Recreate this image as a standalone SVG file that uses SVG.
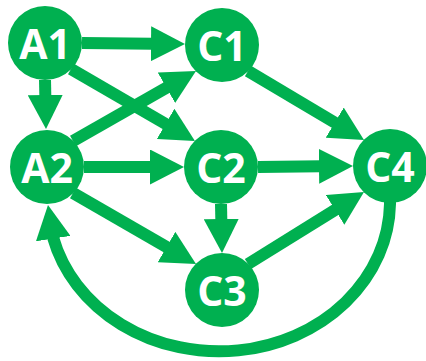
<svg xmlns="http://www.w3.org/2000/svg" width="426" height="361" viewBox="0 0 426 361">
  <style>
    .node { fill: #00B050; }
    .label { fill: #FFFFFF; font-family: "Open Sans", "Liberation Sans", sans-serif; font-weight: 700; font-size: 41px; text-anchor: middle; }
    .edge { fill: none; stroke: #00B050; stroke-width: 12; marker-end: url(#arrow); }
  </style>
  <defs>
    <marker id="arrow" markerUnits="userSpaceOnUse" markerWidth="34" markerHeight="35" refX="2" refY="17.5" orient="auto" viewBox="0 0 34 35">
      <path d="M0,0 L34,17.5 L0,35 Z" fill="#00B050"/>
    </marker>
  </defs>
  <rect width="426" height="361" fill="#FFFFFF"/>
  <g id="connectors">
    <line class="edge" x1="82" y1="43" x2="153" y2="43.7"/>
    <line class="edge" x1="45" y1="80" x2="45.35" y2="97"/>
    <line class="edge" x1="71" y1="69" x2="167.3" y2="124.9"/>
    <line class="edge" x1="73" y1="141" x2="168.2" y2="86.8"/>
    <line class="edge" x1="84" y1="167" x2="152" y2="167"/>
    <line class="edge" x1="73" y1="193" x2="168.3" y2="248"/>
    <line class="edge" x1="248" y1="71" x2="336.5" y2="123.6"/>
    <line class="edge" x1="258" y1="167" x2="321" y2="166.3"/>
    <line class="edge" x1="221" y1="204" x2="221.35" y2="221"/>
    <line class="edge" x1="248" y1="264" x2="336.8" y2="208.9"/>
    <path class="edge" d="M390,200 L390,204 A171,150 0 0 1 53.1,237.6 l-0.155,-0.988"/>
  </g>
  <g id="A1"><circle class="node" cx="45" cy="43" r="37"/><text class="label" x="45" y="59">A1</text></g>
  <g id="C1"><circle class="node" cx="222" cy="45" r="37"/><text class="label" x="222" y="61">C1</text></g>
  <g id="A2"><circle class="node" cx="47" cy="167" r="37"/><text class="label" x="47" y="183">A2</text></g>
  <g id="C2"><circle class="node" cx="221" cy="167" r="37"/><text class="label" x="221" y="183">C2</text></g>
  <g id="C4"><circle class="node" cx="390" cy="166" r="37"/><text class="label" x="390" y="182">C4</text></g>
  <g id="C3"><circle class="node" cx="222" cy="290" r="37"/><text class="label" x="222" y="306">C3</text></g>
</svg>
